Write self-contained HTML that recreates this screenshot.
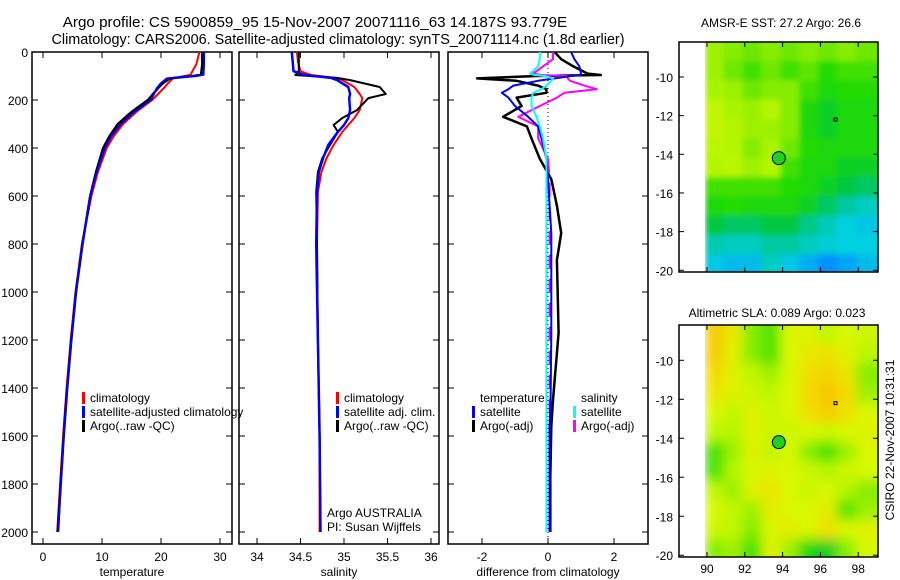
<!DOCTYPE html>
<html><head><meta charset="utf-8"><style>
html,body{margin:0;padding:0;background:#fff;}
svg{display:block;font-family:"Liberation Sans",sans-serif;}
text{fill:#000;}
</style></head><body>
<svg id="chart" width="900" height="580" viewBox="0 0 900 580" xmlns="http://www.w3.org/2000/svg">
<defs>
<clipPath id="clipSst"><rect x="705" y="42" width="173" height="230"/></clipPath>
<clipPath id="clipSla"><rect x="705" y="325" width="173" height="232"/></clipPath>
<filter id="blurS" x="-5%" y="-5%" width="110%" height="110%"><feGaussianBlur stdDeviation="3"/></filter>
<filter id="blurL" x="-5%" y="-5%" width="110%" height="110%"><feGaussianBlur stdDeviation="6"/></filter>
</defs>
<text x="315" y="27" font-size="15.2" text-anchor="middle">Argo profile: CS 5900859_95 15-Nov-2007 20071116_63 14.187S 93.779E</text>
<text x="338" y="44" font-size="14.4" text-anchor="middle">Climatology: CARS2006. Satellite-adjusted climatology: synTS_20071114.nc (1.8d earlier)</text>
<g id="plots"></g>
<text x="781" y="27" font-size="12" text-anchor="middle">AMSR-E SST: 27.2 Argo: 26.6</text>
<text x="777" y="317" font-size="12" text-anchor="middle">Altimetric SLA: 0.089 Argo: 0.023</text>
<text transform="translate(894,440) rotate(-90)" font-size="12" text-anchor="middle">CSIRO 22-Nov-2007 10:31:31</text>
</svg>
<script>
// ---- profile data ----
const depthT = [0,50,95,100,110,130,150,200,250,300,350,400,500,600,800,1000,1200,1400,1600,1800,2000];
const tempArgo = [27.0,27.0,26.8,25.5,21.5,20.3,19.5,17.8,15.0,12.7,11.3,10.2,9.0,8.0,6.7,5.6,4.8,4.1,3.5,3.0,2.5];
const tempClim = [26.5,26.0,25.0,24.0,22.0,21.2,20.5,18.5,15.8,13.6,12.0,10.8,9.3,8.2,6.6,5.5,4.7,4.0,3.4,2.9,2.4];
const tempSat = [27.3,27.3,27.2,26.0,21.0,20.0,19.3,18.3,15.5,13.2,11.6,10.5,9.1,8.0,6.7,5.6,4.8,4.1,3.5,3.0,2.6];
const depthS = [0,40,80,96,108,117,146,175,192,242,275,304,333,387,442,500,583,800,1200,1600,2000];
const salArgo = [34.48,34.48,34.48,34.44,34.92,35.07,35.41,35.48,35.28,35.15,34.98,34.88,34.93,34.84,34.75,34.70,34.68,34.69,34.70,34.72,34.73];
const salClim = [34.46,34.47,34.50,34.62,34.90,34.98,35.12,35.18,35.21,35.18,35.12,35.05,34.98,34.88,34.80,34.74,34.70,34.69,34.70,34.72,34.72];
const salSat = [34.40,34.41,34.42,34.55,34.85,34.92,35.05,35.07,35.06,35.07,35.05,35.00,34.93,34.82,34.76,34.71,34.69,34.68,34.70,34.72,34.73];
const depthD = [0,30,60,90,96,100,110,120,140,155,170,190,225,270,310,360,445,530,640,755,867,1170,1450,1560,1770,2000];
const diffTArgo = [0.2,0.4,0.77,1.2,1.6,-0.35,-2.15,-0.95,-0.3,-0.05,-0.05,-0.95,-0.8,-1.36,-0.64,-0.5,-0.25,0.1,0.27,0.4,0.27,0.32,0.15,0.1,0.07,0.07];
const diffTSat = [0.7,0.8,0.95,1.0,1.0,0.7,0.2,-0.3,-1.05,-1.2,-1.4,-1.2,-1.0,-0.6,-0.3,-0.2,-0.05,0,0.05,0.1,0.1,0.1,0.08,0.05,0.05,0.05];
const diffSSat = [-0.25,-0.25,-0.3,-0.55,-0.4,-0.1,0.15,0.1,-0.05,-0.2,-0.45,-0.5,-0.5,-0.35,-0.25,-0.15,-0.05,-0.05,-0.05,-0.05,-0.05,-0.05,-0.05,-0.05,-0.05,-0.05];
const diffSArgo = [0.15,0.15,-0.15,-0.45,-0.2,0.57,0.6,0.67,1.1,1.48,0.5,0.27,-0.25,-0.9,-0.3,-0.3,0.0,0.05,0.05,0.05,0.05,0.05,0.05,0.05,0.05,0.05];
const depthTicks = [0,200,400,600,800,1000,1200,1400,1600,1800,2000];
const tempTicks = [0,10,20,30];
const salTicks = [34,34.5,35,35.5,36];
const diffTicks = [-2,0,2];
// ---- map data (coarse 1-degree grid, colour index 0..1) ----
const mapLons = [89.9,90.9,91.9,92.9,93.9,94.9,95.9,96.9,97.9,99.0];
const mapLats = [-8.2,-9.2,-10.2,-11.2,-12.2,-13.2,-14.2,-15.2,-16.2,-17.2,-18.2,-19.2,-20.1];
const sstGrid = [
[0.62,0.60,0.58,0.60,0.58,0.60,0.58,0.60,0.58],
[0.62,0.58,0.55,0.58,0.55,0.57,0.53,0.55,0.55],
[0.63,0.62,0.58,0.60,0.60,0.55,0.52,0.53,0.53],
[0.66,0.63,0.62,0.64,0.60,0.52,0.50,0.52,0.52],
[0.66,0.64,0.62,0.62,0.60,0.52,0.50,0.52,0.52],
[0.65,0.64,0.60,0.63,0.58,0.53,0.52,0.52,0.52],
[0.64,0.65,0.62,0.64,0.55,0.52,0.52,0.50,0.50],
[0.55,0.55,0.55,0.55,0.53,0.52,0.50,0.48,0.45],
[0.52,0.53,0.52,0.52,0.52,0.50,0.45,0.40,0.35],
[0.48,0.45,0.45,0.48,0.48,0.42,0.36,0.30,0.28],
[0.38,0.35,0.35,0.40,0.40,0.35,0.32,0.30,0.30],
[0.28,0.25,0.25,0.35,0.28,0.22,0.15,0.20,0.25]];
const slaGrid = [
[0.85,0.75,0.60,0.56,0.70,0.72,0.66,0.70,0.68],
[0.85,0.72,0.60,0.56,0.70,0.75,0.78,0.72,0.65],
[0.80,0.72,0.66,0.62,0.70,0.78,0.82,0.76,0.60],
[0.76,0.72,0.68,0.66,0.70,0.80,0.86,0.80,0.62],
[0.70,0.66,0.72,0.68,0.70,0.78,0.84,0.78,0.70],
[0.66,0.64,0.72,0.68,0.68,0.70,0.68,0.70,0.72],
[0.55,0.62,0.72,0.66,0.70,0.60,0.55,0.62,0.70],
[0.55,0.64,0.70,0.72,0.70,0.68,0.64,0.68,0.70],
[0.66,0.62,0.72,0.76,0.70,0.68,0.70,0.64,0.60],
[0.70,0.66,0.62,0.74,0.70,0.70,0.74,0.56,0.62],
[0.68,0.66,0.60,0.70,0.74,0.70,0.78,0.70,0.72],
[0.60,0.62,0.55,0.72,0.62,0.52,0.50,0.60,0.70]];
const argoPos = [93.8,-14.2];
const otherPos = [96.8,-12.2];
const latTicks = [-10,-12,-14,-16,-18,-20];
const lonTicks = [90,92,94,96,98];

const NS = 'http://www.w3.org/2000/svg';
const root = document.getElementById('plots');
function mk(tag, attrs, parent){const e=document.createElementNS(NS,tag);for(const k in attrs)e.setAttribute(k,attrs[k]);(parent||root).appendChild(e);return e;}
function txt(x,y,s,size,anchor,parent){const t=mk('text',{x:x,y:y,'font-size':size,'text-anchor':anchor},parent);t.textContent=s;return t;}

const yTop=52, yBot=544;
function yD(d){return yTop + d*0.24;}

const panels = [
 {x0:32,x1:232,xs:v=>43+v*5.9,ticks:tempTicks,label:'temperature',name:'temperature'},
 {x0:239,x1:439,xs:v=>257+(v-34)*87,ticks:salTicks,label:'salinity',name:'salinity'},
 {x0:448,x1:648,xs:v=>548+v*33,ticks:diffTicks,label:'difference from climatology',name:'difference'}
];
panels.forEach((p,i)=>{
  const g=mk('g',{});
  
  
  const fr=mk('rect',{x:p.x0,y:yTop,width:p.x1-p.x0,height:yBot-yTop,fill:'none',stroke:'#000','stroke-width':1.5},g);
  
  
  p.ticks.forEach(v=>{
    const x=p.xs(v);
    mk('line',{x1:x,x2:x,y1:yTop,y2:yTop+6,stroke:'#000'},g);
    mk('line',{x1:x,x2:x,y1:yBot,y2:yBot-6,stroke:'#000'},g);
    const t=txt(x,561,String(v),12,'middle',g);
    
    
  });
  depthTicks.forEach(d=>{
    const y=yD(d);
    mk('line',{x1:p.x0,x2:p.x0+6,y1:y,y2:y,stroke:'#000'},g);
    mk('line',{x1:p.x1,x2:p.x1-6,y1:y,y2:y,stroke:'#000'},g);
    if(i===0){const t=txt(28,y+5,String(d),12,'end',g);
      
      }
  });
  const xl=txt((p.x0+p.x1)/2,576,p.label,12,'middle',g);
  
  
});

function line(xs,depths,vals,color,name,w,dash){
  const pts=vals.map((v,k)=>xs(v).toFixed(1)+','+yD(depths[k]).toFixed(1)).join(' ');
  const a={points:pts,fill:'none',stroke:color,'stroke-width':w||2,'stroke-linejoin':'round'};
  if(dash)a['stroke-dasharray']=dash;
  const pl=mk('polyline',a);
  
  
}
const zl=mk('line',{x1:548,x2:548,y1:yTop,y2:yBot,stroke:'#000','stroke-dasharray':'1,3'});



line(panels[0].xs,depthT,tempClim,'#f00','temperature-climatology-line');
line(panels[0].xs,depthT,tempArgo,'#000','temperature-argo-line',2.5);
line(panels[0].xs,depthT,tempSat,'#00f','temperature-satellite-line');
line(panels[1].xs,depthS,salClim,'#f00','salinity-climatology-line');
line(panels[1].xs,depthS,salArgo,'#000','salinity-argo-line');
line(panels[1].xs,depthS,salSat,'#00f','salinity-satellite-line',2.5);
line(panels[2].xs,depthD,diffTArgo,'#000','temp-argo-diff-line',2.5);
line(panels[2].xs,depthD.slice(0,17),diffSArgo.slice(0,17),'#f0f','sal-argo-diff-line');
line(panels[2].xs,depthD.slice(16),diffSArgo.slice(16),'#f0f','sal-argo-diff-deep-line',2,'14,10');
line(panels[2].xs,depthD,diffTSat,'#00f','temp-satellite-diff-line');
line(panels[2].xs,depthD,diffSSat,'#0ff','sal-satellite-diff-line');

function legend(x,y,color,label,name){
  const g=mk('g',{});
  
  
  if(color) mk('rect',{x:x,y:y-10,width:3,height:12,fill:color},g);
  txt(x+8,y,label,12,'start',g);
}
legend(82,402,'#f00','climatology','legend-climatology');
legend(82,416,'#00f','satellite-adjusted climatology','legend-satellite-adjusted');
legend(82,430,'#000','Argo(..raw -QC)','legend-argo-raw');
legend(336,402,'#f00','climatology','legend-sal-climatology');
legend(336,416,'#00f','satellite adj. clim.','legend-sal-satellite');
legend(336,430,'#000','Argo(..raw -QC)','legend-sal-argo');
legend(472,402,null,'temperature','legend-temperature-heading');
legend(472,416,'#00f','satellite','legend-temp-satellite');
legend(472,430,'#000','Argo(-adj)','legend-temp-argo');
legend(573,402,null,'salinity','legend-salinity-heading');
legend(573,416,'#0ff','satellite','legend-sal-sat');
legend(573,430,'#f0f','Argo(-adj)','legend-sal-argo-adj');
const a1=txt(327,517,'Argo AUSTRALIA',12,'start');


const a2=txt(327,531,'PI: Susan Wijffels',12,'start');



const stops=[[0,[0,48,192]],[0.15,[0,144,255]],[0.3,[0,208,224]],[0.4,[0,200,160]],[0.48,[0,200,64]],[0.53,[32,220,0]],[0.58,[110,232,0]],[0.64,[180,246,0]],[0.7,[216,248,0]],[0.78,[240,224,0]],[0.88,[248,192,0]],[1,[240,128,0]]];
function cmap(v){
  for(let i=1;i<stops.length;i++){if(v<=stops[i][0]){const a=stops[i-1],b=stops[i];const t=(v-a[0])/(b[0]-a[0]);
    return 'rgb('+a[1].map((c,j)=>Math.round(c+(b[1][j]-c)*t)).join(',')+')';}}
  return 'rgb(240,128,0)';
}
function drawMap(y0,y1,grid,clip,filt,showLon,name){
  const x0=679,x1=878;
  const lx=lon=>707+(lon-90)*18.9;
  const ly=lat=>y0+(-8.19-lat)*((y1-y0)/11.9);
  const g=mk('g',{});
  
  
  const cg=mk('g',{'clip-path':'url(#'+clip+')'},g);
  const bg=mk('g',{filter:'url(#'+filt+')'},cg);
  grid.forEach((row,r)=>row.forEach((v,c)=>{
    const xa=lx(mapLons[c]),xb=lx(mapLons[c+1]);
    const ya=ly(mapLats[r]),yb=ly(mapLats[r+1]);
    const ex=c===row.length-1?12:0.5, ey=r===grid.length-1?12:0.5;
    const cell=mk('rect',{x:xa-(c===0?0:0.5),y:ya-(r===0?12:0.5),width:xb-xa+ex+(c===0?0:0.5),height:yb-ya+ey+(r===0?12:0.5),fill:cmap(v)},bg);
    
    
  }));
  const fr=mk('rect',{x:x0,y:y0,width:x1-x0,height:y1-y0,fill:'none',stroke:'#000','stroke-width':1.5},g);
  
  
  latTicks.forEach(l=>{const y=ly(l);
    mk('line',{x1:x0,x2:x0+5,y1:y,y2:y,stroke:'#000'},g);
    mk('line',{x1:x1,x2:x1-5,y1:y,y2:y,stroke:'#000'},g);
    const t=txt(x0-6,y+5,String(l),12,'end',g);
    
    });
  lonTicks.forEach(l=>{const x=lx(l);
    mk('line',{x1:x,x2:x,y1:y1,y2:y1-5,stroke:'#000'},g);
    mk('line',{x1:x,x2:x,y1:y0,y2:y0+5,stroke:'#000'},g);
    if(showLon){const t=txt(x,573,String(l),12,'middle',g);
      
      }});
  const m=mk('circle',{cx:lx(argoPos[0]),cy:ly(argoPos[1]),r:6.5,fill:'#20d020',stroke:'#000','stroke-width':1},g);
  
  
  const o=mk('rect',{x:lx(otherPos[0])-1.5,y:ly(otherPos[1])-1.5,width:3,height:3,fill:'none',stroke:'#000','stroke-width':1},g);
  
  
}
drawMap(42,272,sstGrid,'clipSst','blurS',false,'sst-map');
drawMap(325,557,slaGrid,'clipSla','blurL',true,'sla-map');
</script>
</body></html>
